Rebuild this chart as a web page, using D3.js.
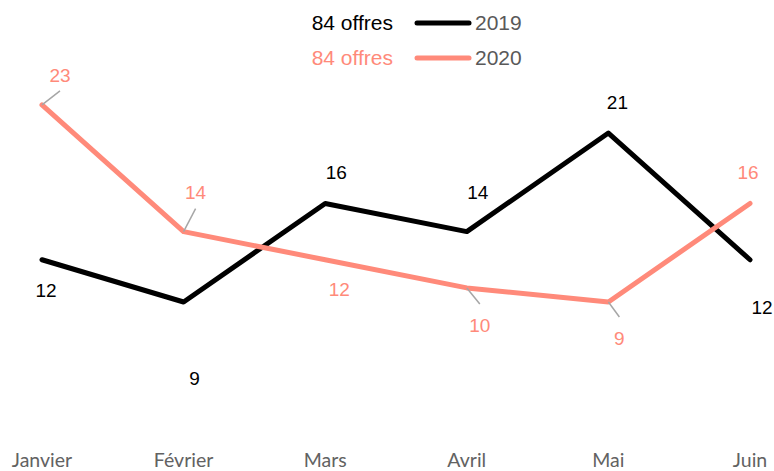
<!DOCTYPE html>
<html>
<head>
<meta charset="utf-8">
<script src="https://cdn.jsdelivr.net/npm/d3@7"></script>
<style>
body { margin: 0; background: #fff; }
svg { display: block; }
.axisLabel { font-family: Lato, "Liberation Sans", sans-serif; font-weight: 400; font-size: 19.5px; fill: #626262; }
.valueLabel { font-family: "Liberation Sans", Arial, sans-serif; font-size: 19px; }
.legend text { font-family: "Liberation Sans", Arial, sans-serif; font-size: 21px; }
</style>
</head>
<body>
<svg id="chart" width="774" height="471"></svg>
<script>
var months = ["Janvier", "Février", "Mars", "Avril", "Mai", "Juin"];
var values2019 = [12, 9, 16, 14, 21, 12];
var values2020 = [23, 14, 12, 10, 9, 16];
var seriesNames = ["2019", "2020"];
var legendTitles = ["84 offres", "84 offres"];

// label placement (offset from point), and whether a leader line is drawn
var offsets2019 = [[4, 31], [11, 76], [11, -31], [11, -39], [9, -31], [12, 48]];
var offsets2020 = [[18, -30], [12, -39], [14, 30], [13, 37], [11, 36], [-2, -31]];
var leaders2019 = [false, false, false, false, false, false];
var leaders2020 = [true, true, false, true, true, false];

var colors = ["#000000", "#ff8a7a"];

var svg = d3.select("#chart");

var x = d3.scalePoint().domain(months).range([42, 750]);
var y = d3.scaleLinear().domain([0, 23]).range([428.7, 104.9]);

var series = [
	{name: seriesNames[0], title: legendTitles[0], values: values2019, offsets: offsets2019, leaders: leaders2019, color: colors[0]},
	{name: seriesNames[1], title: legendTitles[1], values: values2020, offsets: offsets2020, leaders: leaders2020, color: colors[1]}
];

// x axis labels
svg.append("g").selectAll("text")
	.data(months)
	.enter().append("text")
		.attr("class", "axisLabel")
		.attr("x", function(d) {return x(d);})
		.attr("y", 467)
		.style("text-anchor", "middle")
		.text(function(d) {return d;})
;

var line = d3.line()
	.x(function(d, i) {return x(months[i]);})
	.y(function(d) {return y(d);});

series.forEach(function(s) {
	svg.append("path")
		.datum(s.values)
		.attr("d", line)
		.attr("fill", "none")
		.attr("stroke", s.color)
		.attr("stroke-width", 5)
		.attr("stroke-linejoin", "round")
		.attr("stroke-linecap", "round")
	;
});

// value labels (drawn after both lines)
series.forEach(function(s) {
	var g = svg.append("g");
	s.values.forEach(function(v, i) {
		var px = x(months[i]), py = y(v),
			lx = px + s.offsets[i][0], ly = py + s.offsets[i][1];
		if (s.leaders[i]) {
			g.append("line")
				.attr("x1", px).attr("y1", py)
				.attr("x2", lx).attr("y2", ly + (s.offsets[i][1] < 0 ? 16 : -21))
				.attr("stroke", "#a6a6a6")
				.attr("stroke-width", 1.5)
			;
		}
		g.append("text")
			.attr("class", "valueLabel")
			.attr("x", lx)
			.attr("y", ly)
			.attr("dy", "0.35em")
			.style("text-anchor", "middle")
			.style("fill", s.color)
			.text(v)
		;
	});
});

// legend
var legend = svg.append("g").attr("class", "legend");
series.forEach(function(s, i) {
	var ly = 23 + i * 35;
	legend.append("text")
		.attr("x", 393).attr("y", ly).attr("dy", "0.35em")
		.style("text-anchor", "end")
		.style("fill", s.color)
		.text(s.title);
	legend.append("line")
		.attr("x1", 417).attr("x2", 469)
		.attr("y1", ly).attr("y2", ly)
		.attr("stroke", s.color)
		.attr("stroke-width", 5)
		.attr("stroke-linecap", "round");
	legend.append("text")
		.attr("x", 475).attr("y", ly).attr("dy", "0.35em")
		.style("fill", "#595959")
		.text(s.name);
});
</script>
</body>
</html>
